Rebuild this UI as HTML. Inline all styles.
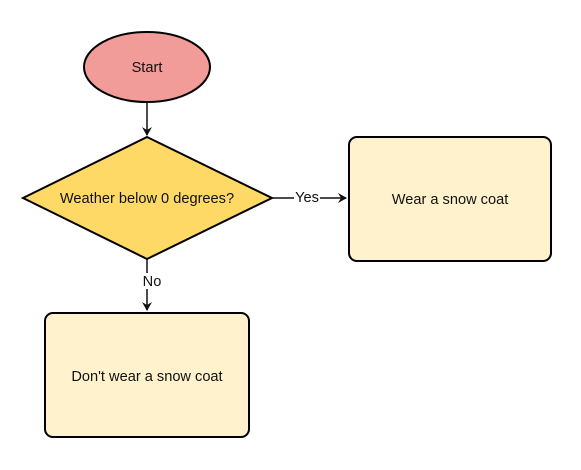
<!DOCTYPE html>
<html><head><style>body{margin:0;background:#fff}svg{display:block}text{font-family:"Liberation Sans",Arial,sans-serif;font-size:14.6px;fill:#111}</style></head>
<body>
<svg width="581" height="470" viewBox="0 0 581 470">
<defs><marker id="a" markerWidth="10" markerHeight="10" refX="8" refY="5" orient="auto" markerUnits="userSpaceOnUse"><path d="M0,0 L9,5 L0,10 L3,5 Z" fill="#111"/></marker></defs>
<ellipse cx="147" cy="67" rx="63" ry="35" fill="#f19c99" stroke="#000" stroke-width="2"/>
<text x="147" y="72" text-anchor="middle">Start</text>
<line x1="147" y1="102" x2="147" y2="135" stroke="#111" stroke-width="1.5" marker-end="url(#a)"/>
<polygon points="147,137 272,198 147,259 23,198" fill="#ffd966" stroke="#000" stroke-width="2"/>
<text x="147" y="203" text-anchor="middle">Weather below 0 degrees?</text>
<line x1="272" y1="198" x2="346" y2="198" stroke="#111" stroke-width="1.5" marker-end="url(#a)"/>
<rect x="294" y="189" width="26" height="16" fill="#fff"/>
<text x="307" y="202" text-anchor="middle">Yes</text>
<line x1="147" y1="259" x2="147" y2="310" stroke="#111" stroke-width="1.5" marker-end="url(#a)"/>
<rect x="141" y="273" width="22" height="16" fill="#fff"/>
<text x="152" y="286" text-anchor="middle">No</text>
<rect x="349" y="137" width="202" height="124" rx="8" fill="#fff2cc" stroke="#000" stroke-width="2"/>
<text x="450" y="204" text-anchor="middle">Wear a snow coat</text>
<rect x="45" y="313" width="204" height="124" rx="8" fill="#fff2cc" stroke="#000" stroke-width="2"/>
<text x="147" y="381" text-anchor="middle">Don't wear a snow coat</text>
</svg>
</body></html>
